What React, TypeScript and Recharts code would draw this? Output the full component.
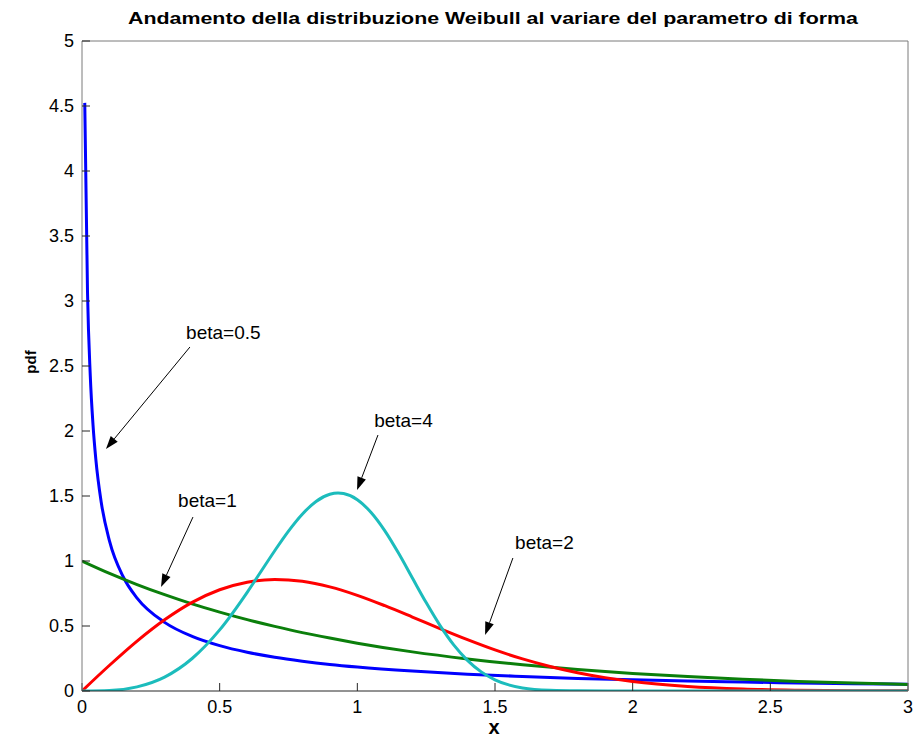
import { LineChart, Line, XAxis, YAxis, ReferenceLine, ReferenceDot } from "recharts";

const X_TICKS = [0, 0.5, 1, 1.5, 2, 2.5, 3];
const Y_TICKS = [0, 0.5, 1, 1.5, 2, 2.5, 3, 3.5, 4, 4.5, 5];

// beta = 0.5
const X_B05 = [0.01, 0.02, 0.03, 0.04, 0.05, 0.07, 0.1, 0.15, 0.2, 0.3, 0.4, 0.5, 0.6, 0.7, 0.8, 0.9, 1.0, 1.2, 1.4, 1.6, 1.8, 2.0, 2.2, 2.4, 2.6, 2.8, 3.0];
const Y_B05 = [4.524, 3.069, 2.428, 2.047, 1.788, 1.45, 1.153, 0.877, 0.715, 0.528, 0.42, 0.349, 0.298, 0.259, 0.229, 0.204, 0.184, 0.153, 0.129, 0.112, 0.097, 0.086, 0.077, 0.069, 0.062, 0.056, 0.051];

// beta = 1
const X_B1 = [0, 0.1, 0.2, 0.3, 0.4, 0.5, 0.6, 0.7, 0.8, 0.9, 1.0, 1.2, 1.4, 1.6, 1.8, 2.0, 2.2, 2.4, 2.6, 2.8, 3.0];
const Y_B1 = [1, 0.905, 0.819, 0.741, 0.67, 0.607, 0.549, 0.497, 0.449, 0.407, 0.368, 0.301, 0.247, 0.202, 0.165, 0.135, 0.111, 0.091, 0.074, 0.061, 0.05];

// beta = 2
const X_B2 = [0, 0.1, 0.2, 0.3, 0.4, 0.5, 0.6, 0.7, 0.8, 0.9, 1.0, 1.1, 1.2, 1.3, 1.4, 1.5, 1.6, 1.7, 1.8, 1.9, 2.0, 2.2, 2.4, 2.6, 2.8, 3.0];
const Y_B2 = [0, 0.198, 0.384, 0.548, 0.682, 0.779, 0.837, 0.858, 0.844, 0.801, 0.736, 0.656, 0.569, 0.48, 0.395, 0.316, 0.247, 0.189, 0.141, 0.103, 0.073, 0.035, 0.015, 0.006, 0.002, 0.001];

// beta = 4
const X_B4 = [0, 0.1, 0.2, 0.3, 0.4, 0.5, 0.6, 0.65, 0.7, 0.75, 0.8, 0.85, 0.9, 0.93, 0.95, 1.0, 1.05, 1.1, 1.15, 1.2, 1.25, 1.3, 1.35, 1.4, 1.45, 1.5, 1.6, 1.7, 1.8, 2.0, 2.5, 3.0];
const Y_B4 = [0, 0.004, 0.032, 0.107, 0.25, 0.47, 0.759, 0.919, 1.079, 1.23, 1.36, 1.458, 1.513, 1.523, 1.519, 1.472, 1.373, 1.232, 1.059, 0.869, 0.68, 0.505, 0.355, 0.236, 0.147, 0.086, 0.023, 0.005, 0.001, 0, 0, 0];

const zip = (xs: number[], ys: number[]) => xs.map((x, i) => ({ x, y: ys[i] }));

const SERIES = [
  { name: "beta=0.5", data: zip(X_B05, Y_B05), color: "#0000ff" },
  { name: "beta=1", data: zip(X_B1, Y_B1), color: "#0b7f0b" },
  { name: "beta=2", data: zip(X_B2, Y_B2), color: "#ff0000" },
  { name: "beta=4", data: zip(X_B4, Y_B4), color: "#1cbcbc" },
];

// text anchor (left, middle) and arrow from -> tip, in data units
const NOTES = [
  { text: "beta=0.5", tx: 0.378, ty: 2.754, x1: 0.392, y1: 2.646, x2: 0.087, y2: 1.862 },
  { text: "beta=1", tx: 0.349, ty: 1.469, x1: 0.403, y1: 1.338, x2: 0.287, y2: 0.8 },
  { text: "beta=4", tx: 1.061, ty: 2.077, x1: 1.075, y1: 1.969, x2: 0.999, y2: 1.546 },
  { text: "beta=2", tx: 1.573, ty: 1.146, x1: 1.565, y1: 1.023, x2: 1.464, y2: 0.431 },
];

const FONT = "'Liberation Sans', Arial, Helvetica, sans-serif";
const tickStyle = { fontFamily: FONT, fontSize: 18, fill: "#000" };

function Arrow(props: any) {
  const { x1, y1, x2, y2 } = props;
  const dx = x2 - x1;
  const dy = y2 - y1;
  const len = Math.sqrt(dx * dx + dy * dy) || 1;
  const ux = dx / len;
  const uy = dy / len;
  const hl = 13;
  const hw = 4.5;
  const bx = x2 - ux * hl;
  const by = y2 - uy * hl;
  const pts = `${x2},${y2} ${bx - uy * hw},${by + ux * hw} ${bx + uy * hw},${by - ux * hw}`;
  return (
    <g>
      <line x1={x1} y1={y1} x2={bx} y2={by} stroke="#000" strokeWidth={1} />
      <polygon points={pts} fill="#000" />
    </g>
  );
}

export default function App() {
  return (
    <div style={{ position: "relative", width: 921, height: 737, background: "#fff" }}>
      <style>{`body{margin:0}`}</style>
      <LineChart width={921} height={737} margin={{ top: 0, right: 0, bottom: 0, left: 0 }}>
        <XAxis
          xAxisId="b"
          dataKey="x"
          type="number"
          domain={[0, 3]}
          ticks={X_TICKS}
          allowDataOverflow
          height={46}
          tickSize={-8}
          tickMargin={17}
          tick={tickStyle}
          axisLine={{ stroke: "#262626" }}
          tickLine={{ stroke: "#262626", strokeWidth: 1 }}
        />
        <XAxis
          xAxisId="t"
          orientation="top"
          dataKey="x"
          type="number"
          domain={[0, 3]}
          ticks={X_TICKS}
          height={41}
          tickSize={-8}
          tickFormatter={() => ""}
          axisLine={{ stroke: "#7a7a7a" }}
          tickLine={{ stroke: "#262626", strokeWidth: 1 }}
        />
        <YAxis
          yAxisId="l"
          type="number"
          domain={[0, 5]}
          ticks={Y_TICKS}
          allowDataOverflow
          width={82}
          tickSize={-8}
          tickMargin={16}
          tick={tickStyle}
          axisLine={{ stroke: "#7a7a7a" }}
          tickLine={{ stroke: "#262626", strokeWidth: 1 }}
        />
        <YAxis
          yAxisId="r"
          orientation="right"
          type="number"
          domain={[0, 5]}
          ticks={Y_TICKS}
          width={13}
          tickSize={-8}
          tickFormatter={() => ""}
          axisLine={{ stroke: "#7a7a7a" }}
          tickLine={{ stroke: "#262626", strokeWidth: 1 }}
        />
        {SERIES.map((s) => (
          <Line
            key={s.name}
            xAxisId="b"
            yAxisId="l"
            data={s.data}
            dataKey="y"
            type="monotone"
            stroke={s.color}
            strokeWidth={3}
            dot={false}
            isAnimationActive={false}
          />
        ))}
        {NOTES.map((n) => (
          <ReferenceLine
            key={"a" + n.text}
            xAxisId="b"
            yAxisId="l"
            segment={[
              { x: n.x1, y: n.y1 },
              { x: n.x2, y: n.y2 },
            ]}
            ifOverflow="visible"
            shape={Arrow}
          />
        ))}
        {NOTES.map((n) => (
          <ReferenceDot
            key={"t" + n.text}
            xAxisId="b"
            yAxisId="l"
            x={n.tx}
            y={n.ty}
            ifOverflow="visible"
            shape={(p: any) => (
              <text
                x={p.cx}
                y={p.cy}
                dominantBaseline="central"
                fontFamily={FONT}
                fontSize={19}
                fill="#000"
              >
                {n.text}
              </text>
            )}
          />
        ))}
      </LineChart>
      <svg
        width={921}
        height={737}
        style={{ position: "absolute", left: 0, top: 0, pointerEvents: "none" }}
      >
        <text
          x={128}
          y={24}
          textLength={730}
          lengthAdjust="spacingAndGlyphs"
          fontFamily={FONT}
          fontWeight="bold"
          fontSize={16}
          fill="#000"
        >
          Andamento della distribuzione Weibull al variare del parametro di forma
        </text>
        <text
          x={30}
          y={362}
          transform="rotate(-90 30 362)"
          textAnchor="middle"
          dominantBaseline="central"
          fontFamily={FONT}
          fontWeight="bold"
          fontSize={15}
          fill="#000"
        >
          pdf
        </text>
        <text
          x={494}
          y={734}
          textAnchor="middle"
          fontFamily={FONT}
          fontWeight="bold"
          fontSize={20}
          fill="#000"
        >
          x
        </text>
      </svg>
    </div>
  );
}
